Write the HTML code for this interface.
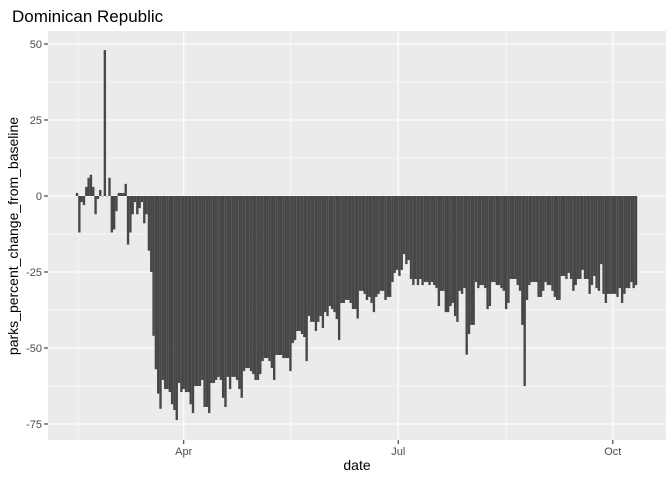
<!DOCTYPE html>
<html><head><meta charset="utf-8"><style>
body{margin:0;background:#fff;}
svg text{font-family:"Liberation Sans",Arial,sans-serif;}
</style></head><body>
<svg id="chart" width="672" height="480" xmlns="http://www.w3.org/2000/svg">
<text x="12" y="22" font-size="17" fill="#000">Dominican Republic</text>
<rect x="48" y="31" width="618" height="409" fill="#EBEBEB"/>
<g id="grid"></g>
<g id="bars"></g>
<g id="axes"></g>
<text x="357" y="470" font-size="14" text-anchor="middle" fill="#000">date</text>
<text transform="translate(18,236) rotate(-90)" font-size="14" text-anchor="middle" fill="#000">parks_percent_change_from_baseline</text>
</svg>
<script>
const values = [1,-12,-2,-3,3,6,7,3,-6,-1,2,0,48,0,6,-12,-11,-5,1,1,1,4,-16,-12,-6,-2,-6,-4,-2,-9,-6,-18,-25,-46,-57,
-65,-70,-60.5,-63.5,-63.5,-64.5,-68.5,-70.4,-73.7,-61.5,-64.5,-63.5,-64.5,-64.5,-68.5,-71.4,-62.5,-62.5,-62.5,-60.5,-69.4,-69.4,-71.4,-61.5,-61.5,-60.5,-59.5,-60.5,-66.4,-69.4,-59.5,-63.5,-59.5,-59.5,-60.5,-63.5,-66.4,-57.6,-56.6,-56.6,-57.6,
-58.6,-60.5,-60.5,-58.6,-54.3,-53.3,-53.3,-54.3,-56.6,-60.5,-52.3,-52.3,-52.3,-53.3,-53.3,-53.3,-57.6,-48.4,-47.4,-44.4,-44.4,-45.4,-46.4,-54.3,-39.5,-41.4,-41.4,-44.4,-41.4,-39.5,-43.4,-38.2,-39.5,-36.2,-37.2,-38.2,-40.5,-47.4,-35.2,-35.2,-34.2,
-34.2,-35.2,-37.2,-37.2,-40.3,-31.2,-31.2,-32.2,-34.2,-33.2,-35.2,-38.2,-33.2,-32.2,-31.2,-31.2,-34.2,-33.2,-33.2,-28.3,-25.3,-24.3,-26.3,-24.3,-19.1,-22.4,-21.1,-27.3,-29.3,-27.3,-29.3,-27.3,-29.3,-28.3,-28.3,-29.3,-28.3,-29.3,-30.3,-36.2,-31.2,
-31.2,-38.2,-38.2,-36.2,-35.2,-39.5,-41.4,-31.2,-32.2,-30.3,-52.2,-45.4,-42.4,-42.4,-28.3,-30.3,-29.3,-29.3,-30.3,-37.2,-36.2,-28.3,-28.3,-29.3,-29.3,-30.3,-31.2,-37.2,-35.2,-27.3,-27.3,-27.3,-29.3,-31.2,-42.4,-62.5,-34.2,-29.3,-28.3,-28.3,-28.3,-33.2,
-33.2,-31.2,-28.3,-29.3,-29.3,-31.2,-33.2,-34.2,-34.2,-26.3,-26.3,-27.3,-25.3,-27.3,-31.2,-29.3,-27.3,-27.3,-24.3,-27.3,-27.3,-32.2,-29.3,-26.3,-30.3,-31.2,-22.4,-32.2,-35.2,-32.2,-32.2,-32.2,-32.2,-33.2,-30.3,-35.2,-32.2,-30.3,-30.3,-28.3,-30.3,-29.3];
const yTicks = [50,25,0,-25,-50,-75];
const yTickLabels = ["50","25","0","-25","-50","-75"];
const xTickIdx = [46,138.5,231];
const xTickLabels = ["Apr","Jul","Oct"];
const xMinorIdx = [0.5,92,185];

const NS="http://www.w3.org/2000/svg";
const n = values.length;
const x0 = 77, x1 = 636;
const step = (x1-x0)/(n-1);
const xs = i => x0 + i*step;
const ys = v => 196 - v*3.04;
function mk(tag, attrs, parent){const e=document.createElementNS(NS,tag);for(const k in attrs)e.setAttribute(k,attrs[k]);parent.appendChild(e);return e;}
const grid=document.getElementById('grid'), bars=document.getElementById('bars'), axes=document.getElementById('axes');
for(let i=0;i<yTicks.length-1;i++){
  const m=(yTicks[i]+yTicks[i+1])/2;
  const l=mk('line',{x1:48,x2:666,y1:ys(m),y2:ys(m),stroke:'#fff','stroke-width':0.55},grid);
  
  
}
xMinorIdx.forEach(t=>{
  const l=mk('line',{x1:xs(t),x2:xs(t),y1:31,y2:440,stroke:'#fff','stroke-width':0.55},grid);
  
  
});
yTicks.forEach((t,i)=>{
  const l=mk('line',{x1:48,x2:666,y1:ys(t),y2:ys(t),stroke:'#fff','stroke-width':1.1},grid);
  
  
  const tk=mk('line',{x1:44,x2:48,y1:ys(t),y2:ys(t),stroke:'#333','stroke-width':1.1},axes);
  
  
  const tx=mk('text',{x:42,y:ys(t)+4,'font-size':11,'text-anchor':'end',fill:'#4d4d4d'},axes);
  
  
  tx.textContent=yTickLabels[i];
});
xTickIdx.forEach((t,i)=>{
  const l=mk('line',{x1:xs(t),x2:xs(t),y1:31,y2:440,stroke:'#fff','stroke-width':1.1},grid);
  
  
  const tk=mk('line',{x1:xs(t),x2:xs(t),y1:440,y2:444,stroke:'#333','stroke-width':1.1},axes);
  
  
  const tx=mk('text',{x:xs(t),y:455,'font-size':11,'text-anchor':'middle',fill:'#4d4d4d'},axes);
  
  
  tx.textContent=xTickLabels[i];
});
values.forEach((v,i)=>{
  const y=Math.min(ys(v),ys(0)), h=Math.abs(ys(v)-ys(0));
  const r=mk('rect',{x:xs(i)-step/2,y:y,width:step+0.05,height:Math.max(h,0.3),fill:'#474747'},bars);
  
  
});
</script>
</body></html>
